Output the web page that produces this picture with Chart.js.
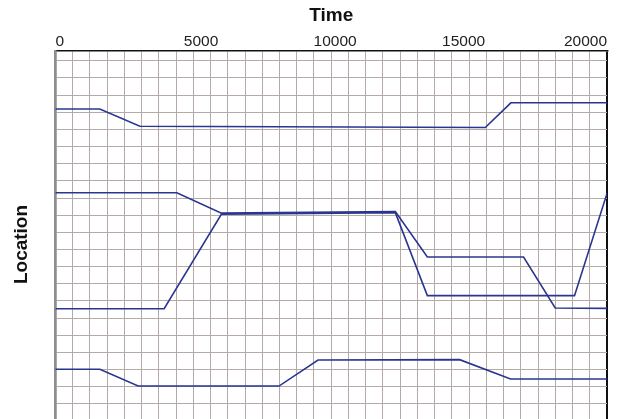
<!DOCTYPE html>
<html>
<head>
<meta charset="utf-8">
<script src="https://cdn.jsdelivr.net/npm/chart.js@4/dist/chart.umd.min.js"></script>
<style>
  html, body { margin: 0; padding: 0; background: #fff; }
  #wrap { width: 626px; height: 419px; position: relative; }
</style>
</head>
<body>
<div id="wrap"><canvas id="c"></canvas></div>
<script>
// ---- data ----
const xTickLabels = [0, 5000, 10000, 15000, 20000];

const timeA = [0, 1612, 3062, 15587, 16514, 20000];
const locA  = [17.19, 17.19, 16.18, 16.11, 17.55, 17.55];

const timeB = [0, 4402, 6022, 12326, 13486, 16975, 18123, 20000];
const locB  = [12.31, 12.31, 11.12, 11.21, 8.56, 8.56, 5.59, 5.57];

const timeC = [0, 3942, 6022, 12326, 13486, 18822, 20000];
const locC  = [5.55, 5.55, 11.06, 11.15, 6.31, 6.31, 12.27];

const timeD = [0, 1612, 3000, 8109, 9522, 14656, 16504, 20000];
const locD  = [2.02, 2.02, 1.04, 1.04, 2.56, 2.58, 1.45, 1.45];

const seriesNames = ['A', 'B', 'C', 'D'];
const seriesTimes = [timeA, timeB, timeC, timeD];
const seriesLocs  = [locA, locB, locC, locD];

// ---- styling ----
const LINE = '#2a3591';
const GRID = '#b5aaa7';
const EN = '\u2002';

const datasets = seriesNames.map((n, i) => ({
  label: n,
  data: seriesTimes[i].map((t, j) => ({ x: t, y: seriesLocs[i][j] })),
  borderColor: LINE,
  borderWidth: 1.6,
  pointRadius: 0,
  tension: 0,
  fill: false
}));

function tickText(v) {
  if (!xTickLabels.includes(v)) return '';
  if (v === 5000) return EN + EN + String(v);
  if (v === 10000) return EN + String(v);
  if (v === 15000) return String(v) + EN + '\u2009';
  return String(v);
}

new Chart(document.getElementById('c'), {
  type: 'line',
  data: { datasets },
  options: {
    responsive: true,
    maintainAspectRatio: false,
    animation: false,
    layout: { padding: { top: 0, left: 6, right: 19, bottom: 0 } },
    plugins: { legend: { display: false }, tooltip: { enabled: false } },
    scales: {
      x: {
        type: 'linear',
        position: 'top',
        min: 0,
        max: 20000,
        afterBuildTicks: (scale) => {
          const t = [];
          for (let v = 0; v <= 20000; v += 625) t.push({ value: v });
          scale.ticks = t;
        },
        ticks: {
          autoSkip: false,
          maxRotation: 0,
          align: 'inner',
          padding: 0,
          color: '#222',
          font: { family: 'Liberation Sans, Arial, sans-serif', size: 15.5 },
          callback: (v) => tickText(v)
        },
        grid: {
          drawTicks: false,
          color: (ctx) => {
            const v = ctx.tick && ctx.tick.value;
            if (v === 20000) return '#111';
            if (v === 0) return '#8e8e8e';
            return GRID;
          },
          lineWidth: (ctx) => {
            const v = ctx.tick && ctx.tick.value;
            if (v === 20000) return 2;
            if (v === 0) return 2.5;
            return 1;
          }
        },
        border: { display: true, color: '#111', width: 1.6 },
        title: {
          display: true,
          text: 'Time',
          color: '#111',
          font: { family: 'Liberation Sans, Arial, sans-serif', size: 19, weight: 'bold' },
          padding: { top: 4, bottom: 5.6 }
        }
      },
      y: {
        type: 'linear',
        min: -0.88,
        max: 20.57,
        afterBuildTicks: (scale) => {
          const t = [];
          for (let v = 0; v <= 20; v += 1) t.push({ value: v });
          scale.ticks = t;
        },
        ticks: { display: false },
        grid: { drawTicks: false, color: GRID, lineWidth: 1 },
        border: { display: true, color: '#8e8e8e', width: 2.5 },
        title: {
          display: true,
          text: 'Location' + EN + EN,
          color: '#111',
          font: { family: 'Liberation Sans, Arial, sans-serif', size: 19, weight: 'bold' },
          padding: { top: 4, bottom: 22.6 }
        }
      }
    }
  }
});
</script>
</body>
</html>
